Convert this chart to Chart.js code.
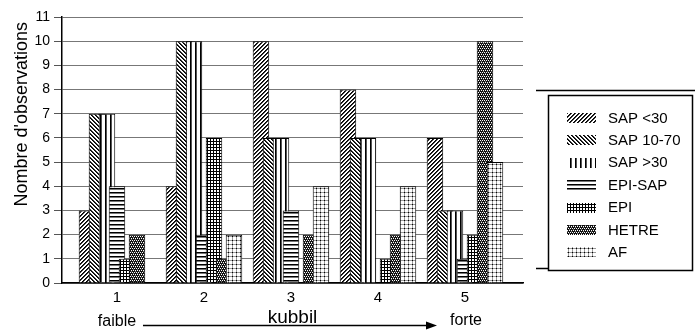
<!DOCTYPE html>
<html>
<head>
<meta charset="utf-8">
<script src="https://cdn.jsdelivr.net/npm/chart.js@4/dist/chart.umd.min.js"></script>
<style>
  html, body { margin: 0; padding: 0; background: #fff; }
  #wrap { width: 695px; height: 330px; }
</style>
</head>
<body>
<div id="wrap"><canvas id="c" width="695" height="330"></canvas></div>
<script>
// ---- data ----
const categories = ['1', '2', '3', '4', '5'];
const seriesNames = ['SAP <30', 'SAP 10-70', 'SAP >30', 'EPI-SAP', 'EPI', 'HETRE', 'AF'];
const sapLt30   = [3, 4, 10, 8, 6];
const sap10_70  = [7, 10, 6, 6, 3];
const sapGt30   = [7, 10, 6, 6, 3];
const epiSap    = [4, 2, 3, 0, 1];
const epi       = [1, 6, 0, 1, 2];
const hetre     = [2, 1, 2, 2, 10];
const af        = [0, 2, 4, 4, 5];
const yTicks    = [0, 1, 2, 3, 4, 5, 6, 7, 8, 9, 10, 11];
const yTitle    = "Nombre d'observations";
const xTitle    = 'kubbil';
const lowLabel  = 'faible';
const highLabel = 'forte';

const FONT = '"Liberation Sans", Arial, Helvetica, sans-serif';

// ---- patterns ----
function makePattern(size, fn) {
  const c = document.createElement('canvas');
  c.width = size; c.height = size;
  const g = c.getContext('2d');
  g.fillStyle = '#fff';
  g.fillRect(0, 0, size, size);
  fn(g, size);
  return c.getContext('2d').createPattern(c, 'repeat');
}
function px(g, x, y, col) { g.fillStyle = col || '#000'; g.fillRect(x, y, 1, 1); }

const patterns = [
  // SAP <30 : ////
  makePattern(4, (g, s) => { for (let y = 0; y < s; y++) for (let x = 0; x < s; x++) { const k = (x + y) % 4; if (k === 3) px(g, x, y); else if (k === 0) px(g, x, y, '#333'); } }),
  // SAP 10-70 : \\\\
  makePattern(4, (g, s) => { for (let y = 0; y < s; y++) for (let x = 0; x < s; x++) { const k = ((x - y) % 4 + 4) % 4; if (k === 0) px(g, x, y); else if (k === 1) px(g, x, y, '#333'); } }),
  // SAP >30 : vertical lines
  makePattern(5, (g, s) => { g.fillStyle = '#000'; g.fillRect(0, 0, 1, s); g.fillStyle = '#555'; g.fillRect(1, 0, 1, s); }),
  // EPI-SAP : horizontal lines
  makePattern(4, (g, s) => { g.fillStyle = '#000'; g.fillRect(0, 0, s, 1); g.fillStyle = '#777'; g.fillRect(0, 1, s, 1); }),
  // EPI : dense grid
  makePattern(3, (g, s) => { g.fillStyle = '#000'; g.fillRect(0, 0, s, 1); g.fillRect(0, 0, 1, s); }),
  // HETRE : dark dotted
  makePattern(4, (g, s) => { g.fillStyle = '#111'; g.fillRect(0, 0, s, s); px(g, 0, 0, '#fff'); px(g, 2, 0, '#fff'); px(g, 1, 2, '#fff'); px(g, 3, 2, '#fff'); px(g, 1, 1, '#666'); px(g, 3, 3, '#666'); }),
  // AF : light dotted grid
  makePattern(4, (g, s) => { g.fillStyle = '#999'; g.fillRect(0, 0, s, 1); g.fillRect(0, 0, 1, s); px(g, 0, 0, '#000'); })
];

const seriesValues = [sapLt30, sap10_70, sapGt30, epiSap, epi, hetre, af];

const datasets = seriesNames.map((name, i) => ({
  label: name,
  data: seriesValues[i].map((v, j) => ({ x: j + 1, y: v })),
  backgroundColor: patterns[i],
  borderColor: '#000',
  borderWidth: 1,
  categoryPercentage: 0.805,
  barPercentage: 1.65
}));

// draw later series on top of earlier ones (overlapping bars)
const drawOrderPlugin = {
  id: 'drawOrder',
  beforeDatasetsDraw(chart) {
    const ctx = chart.ctx, a = chart.chartArea;
    ctx.save();
    ctx.beginPath();
    ctx.rect(a.left, a.top, a.right - a.left, a.bottom - a.top);
    ctx.clip();
    chart.getSortedVisibleDatasetMetas().forEach(m => m.controller.draw());
    ctx.restore();
    return false;
  }
};

const framePlugin = {
  id: 'frame',
  afterDatasetsDraw(chart) {
    const ctx = chart.ctx, a = chart.chartArea;
    ctx.save();
    ctx.strokeStyle = '#000';
    ctx.lineWidth = 1.5;
    ctx.strokeRect(a.left, a.top, a.right - a.left, a.bottom - a.top);
    ctx.restore();
  },
  afterDraw(chart) {
    const ctx = chart.ctx;
    const xs = chart.scales.x;
    const x1 = xs.getPixelForValue(1), x5 = xs.getPixelForValue(5);
    ctx.save();
    // faible / forte + arrow
    ctx.fillStyle = '#000';
    ctx.font = '16px ' + FONT;
    ctx.textAlign = 'center';
    ctx.textBaseline = 'middle';
    ctx.fillText(lowLabel, x1, 322);
    ctx.fillText(highLabel, x5 + 1, 321);
    ctx.strokeStyle = '#000';
    ctx.lineWidth = 1.3;
    const ax0 = x1 + 26, ax1 = x5 - 28, ay = 325.5;
    ctx.beginPath(); ctx.moveTo(ax0, ay); ctx.lineTo(ax1 - 6, ay); ctx.stroke();
    ctx.beginPath(); ctx.moveTo(ax1, ay); ctx.lineTo(ax1 - 11, ay - 4); ctx.lineTo(ax1 - 11, ay + 4); ctx.closePath(); ctx.fill();

    // legend box
    ctx.lineWidth = 1.5;
    ctx.strokeRect(548.5, 95.5, 144, 175);
    ctx.beginPath();
    ctx.moveTo(536, 90.5); ctx.lineTo(695, 90.5);
    ctx.moveTo(536, 268.5); ctx.lineTo(548, 268.5);
    ctx.stroke();
    ctx.font = '15px ' + FONT;
    ctx.textAlign = 'left';
    ctx.textBaseline = 'middle';
    chart.data.datasets.forEach((ds, i) => {
      const y = 118 + i * 22.4;
      ctx.fillStyle = ds.backgroundColor;
      ctx.fillRect(567, Math.round(y - 5), 29, 10);
      ctx.fillStyle = '#000';
      ctx.fillText(ds.label, 608, y + 0.5);
    });
    ctx.restore();
  }
};

new Chart(document.getElementById('c'), {
  type: 'bar',
  data: { datasets },
  options: {
    responsive: false,
    animation: false,
    layout: { padding: { left: 0, top: 17, right: 172, bottom: 0 } },
    plugins: { legend: { display: false }, tooltip: { enabled: false } },
    scales: {
      x: {
        type: 'linear',
        min: 0.368,
        max: 5.667,
        offset: false,
        afterFit(s) { s.height = 47; },
        afterBuildTicks(s) { s.ticks = categories.map((c, i) => ({ value: i + 1 })); },
        grid: { display: false, drawTicks: false },
        border: { display: true, color: '#000', width: 1.5 },
        ticks: {
          padding: 6,
          color: '#000',
          font: { family: FONT, size: 15 },
          callback: v => categories[Math.round(v) - 1]
        },
        title: {
          display: true,
          text: xTitle,
          color: '#000',
          font: { family: FONT, size: 19 },
          padding: { top: 0, bottom: 1 }
        }
      },
      y: {
        min: 0,
        max: 11,
        afterFit(s) { s.width = 62; },
        afterBuildTicks(s) { s.ticks = yTicks.map(v => ({ value: v })); },
        grid: { color: '#777', lineWidth: 1, tickLength: 8, tickColor: '#555' },
        border: { display: true, color: '#000', width: 1.5 },
        ticks: {
          padding: 4,
          color: '#000',
          font: { family: FONT, size: 14 }
        },
        title: {
          display: true,
          text: yTitle + ' ',
          align: 'end',
          color: '#000',
          font: { family: FONT, size: 18 },
          padding: { top: 11, bottom: 0 }
        }
      }
    }
  },
  plugins: [drawOrderPlugin, framePlugin]
});
</script>
</body>
</html>
